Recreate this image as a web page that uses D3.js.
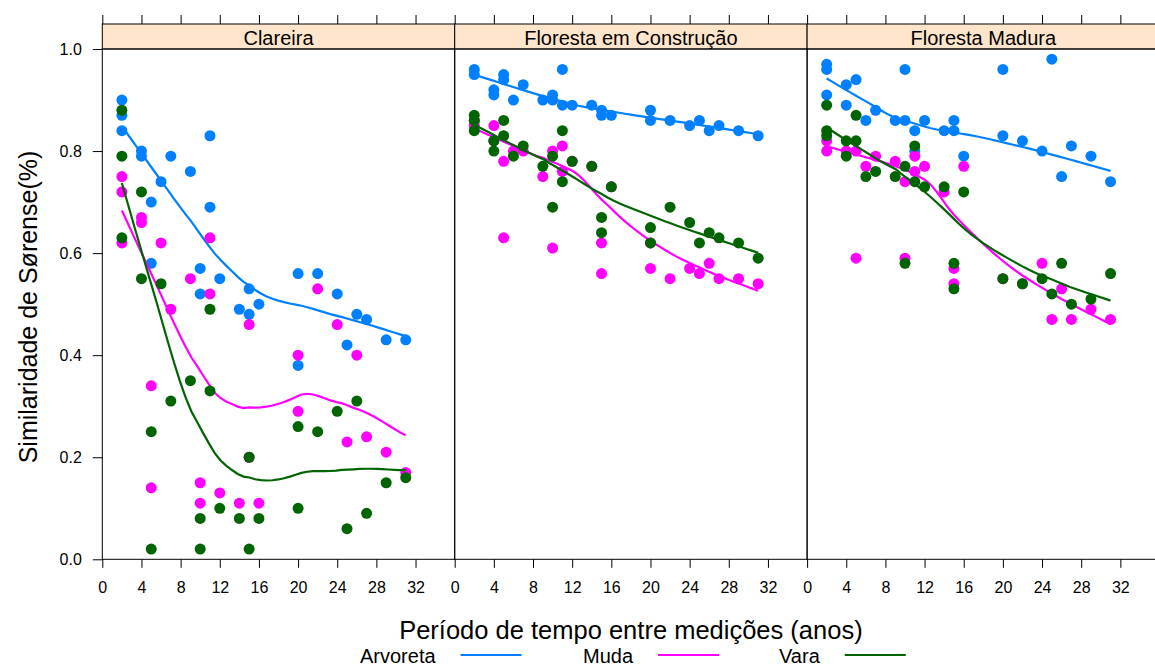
<!DOCTYPE html>
<html>
<head>
<meta charset="utf-8">
<script src="https://cdn.jsdelivr.net/npm/d3@7"></script>
<style>
  body { margin: 0; background: #fff; }
  svg { display: block; font-family: "Liberation Sans", Arial, sans-serif; }
</style>
</head>
<body>
<svg id="chart" width="1155" height="666"></svg>
<script>
// Panels, groups and axis ticks
const panels = ["Clareira", "Floresta em Construção", "Floresta Madura"];
const groups = ["Arvoreta", "Muda", "Vara"];
const groupColors = ["#0080ff", "#ff00ff", "#006400"];
const xTicks = [0, 4, 8, 12, 16, 20, 24, 28, 32];
const yTicks = [0, 0.2, 0.4, 0.6, 0.8, 1.0];

// Sørensen similarity by interval between measurements: [anos, similaridade]
const clareiraArvoreta = [[2,0.90],[2,0.87],[2,0.84],[4,0.80],[4,0.79],[5,0.70],[5,0.58],[6,0.74],[7,0.79],[9,0.76],[10,0.57],[10,0.52],[11,0.83],[11,0.69],[12,0.55],[14,0.49],[15,0.53],[15,0.48],[16,0.50],[20,0.56],[20,0.38],[22,0.56],[24,0.52],[25,0.42],[26,0.48],[27,0.47],[29,0.43],[31,0.43]];
const clareiraMuda = [[2,0.75],[2,0.72],[2,0.62],[4,0.67],[4,0.66],[5,0.34],[5,0.14],[6,0.62],[7,0.49],[9,0.55],[10,0.15],[10,0.11],[11,0.63],[11,0.52],[12,0.13],[14,0.11],[15,0.46],[15,0.20],[16,0.11],[20,0.40],[20,0.29],[22,0.53],[24,0.46],[25,0.23],[26,0.40],[27,0.24],[29,0.21],[31,0.17]];
const clareiraVara = [[2,0.88],[2,0.79],[2,0.63],[4,0.72],[4,0.55],[5,0.25],[5,0.02],[6,0.54],[7,0.31],[9,0.35],[10,0.08],[10,0.02],[11,0.49],[11,0.33],[12,0.10],[14,0.08],[15,0.20],[15,0.02],[16,0.08],[20,0.26],[20,0.10],[22,0.25],[24,0.29],[25,0.06],[26,0.31],[27,0.09],[29,0.15],[31,0.16]];

const construcaoArvoreta = [[2,0.96],[2,0.95],[4,0.92],[4,0.91],[5,0.95],[5,0.94],[6,0.90],[7,0.93],[9,0.90],[10,0.91],[10,0.90],[11,0.96],[11,0.89],[12,0.89],[14,0.89],[15,0.88],[15,0.87],[16,0.87],[20,0.88],[20,0.86],[22,0.86],[24,0.85],[25,0.86],[26,0.84],[27,0.85],[29,0.84],[31,0.83]];
const construcaoMuda = [[2,0.86],[2,0.85],[4,0.85],[4,0.82],[5,0.78],[5,0.63],[6,0.80],[7,0.80],[9,0.75],[10,0.80],[10,0.61],[11,0.81],[11,0.76],[12,0.78],[14,0.77],[15,0.62],[15,0.56],[16,0.73],[20,0.62],[20,0.57],[22,0.55],[24,0.57],[25,0.56],[26,0.58],[27,0.55],[29,0.55],[31,0.54]];
const construcaoVara = [[2,0.87],[2,0.86],[2,0.84],[4,0.82],[4,0.80],[5,0.86],[5,0.83],[6,0.79],[7,0.81],[9,0.77],[10,0.79],[10,0.69],[11,0.84],[11,0.74],[12,0.78],[14,0.77],[15,0.67],[15,0.64],[16,0.73],[20,0.65],[20,0.62],[22,0.69],[24,0.66],[25,0.62],[26,0.64],[27,0.63],[29,0.62],[31,0.59]];

const maduraArvoreta = [[2,0.97],[2,0.96],[2,0.91],[4,0.93],[4,0.89],[5,0.94],[6,0.86],[7,0.88],[9,0.86],[10,0.96],[10,0.86],[11,0.84],[11,0.80],[12,0.86],[14,0.84],[15,0.86],[15,0.84],[16,0.79],[20,0.96],[20,0.83],[22,0.82],[24,0.80],[25,0.98],[26,0.75],[27,0.81],[29,0.79],[31,0.74]];
const maduraMuda = [[2,0.82],[2,0.80],[4,0.80],[5,0.80],[5,0.59],[6,0.77],[7,0.79],[9,0.78],[10,0.74],[10,0.59],[11,0.79],[11,0.76],[12,0.77],[14,0.72],[15,0.57],[15,0.54],[16,0.77],[20,0.55],[22,0.54],[24,0.58],[25,0.47],[26,0.53],[27,0.47],[29,0.49],[31,0.47]];
const maduraVara = [[2,0.89],[2,0.84],[2,0.83],[4,0.82],[4,0.79],[5,0.87],[5,0.82],[6,0.75],[7,0.76],[9,0.75],[10,0.77],[10,0.58],[11,0.81],[11,0.74],[12,0.73],[14,0.73],[15,0.58],[15,0.53],[16,0.72],[20,0.55],[22,0.54],[24,0.55],[25,0.52],[26,0.58],[27,0.50],[29,0.51],[31,0.56]];

const panelData = [
  [clareiraArvoreta, clareiraMuda, clareiraVara],
  [construcaoArvoreta, construcaoMuda, construcaoVara],
  [maduraArvoreta, maduraMuda, maduraVara]
];

// Loess smoother: local linear fits (span 2/3, tricube kernel) with
// bisquare robustness iterations, evaluated on a kd-tree of vertices and
// blended between vertices by cubic Hermite interpolation.
function loessSmooth(points, span = 2 / 3, iterations = 4, evaluation = 50) {
  const xs = points.map(d => d[0]);
  const ys = points.map(d => d[1]);
  const n = xs.length;
  const q = Math.floor(n * span);
  const fc = Math.floor(n * span * 0.2);

  function localFit(x0, rw) {
    const dist = xs.map(x => Math.abs(x - x0));
    const sorted = dist.slice().sort((a, b) => a - b);
    let h = sorted[q - 1];
    if (h <= 0) h = 1e-9;
    let sw = 0, swx = 0, swy = 0, swxx = 0, swxy = 0;
    for (let i = 0; i < n; i++) {
      const u = dist[i] / h;
      let w = u < 0.999 ? Math.pow(1 - u * u * u, 3) : 0;
      w *= rw[i];
      sw += w; swx += w * xs[i]; swy += w * ys[i];
      swxx += w * xs[i] * xs[i]; swxy += w * xs[i] * ys[i];
    }
    const mx = swx / sw, my = swy / sw;
    const vx = swxx / sw - mx * mx;
    if (vx < 1e-10) return [my, 0];
    const b = (swxy / sw - mx * my) / vx;
    return [my + b * (x0 - mx), b];
  }

  // kd-tree vertices along x
  const sx = xs.slice().sort((a, b) => a - b);
  const X = i => sx[i - 1];
  const [xmin, xmax] = d3.extent(xs);
  const margin = 0.005 * Math.max(xmax - xmin, 1e-10);
  const verts = [xmin - margin, xmax + margin];
  (function split(l, u, lowV, highV) {
    if (u - l + 1 <= fc) return;
    let m = Math.floor((l + u) / 2);
    let offset = 0;
    while (!(m + offset >= u || m + offset < l)) {
      if (X(m + offset) === X(m + offset + 1)) {
        offset = -offset;
        if (offset >= 0) offset += 1;
      } else { m += offset; break; }
    }
    const v = X(m);
    if (v === lowV || v === highV) return;
    verts.push(v);
    split(l, m, lowV, v);
    split(m + 1, u, v, highV);
  })(1, n, verts[0], verts[1]);
  const vx = Array.from(new Set(verts)).sort((a, b) => a - b);

  function surface(rw) {
    const vv = vx.map(v => localFit(v, rw));
    return x => {
      let i = d3.bisectRight(vx, x) - 1;
      i = Math.max(0, Math.min(vx.length - 2, i));
      const x0 = vx[i], x1 = vx[i + 1], hh = x1 - x0;
      const t = (x - x0) / hh;
      const [f0, s0] = vv[i], [f1, s1] = vv[i + 1];
      const t2 = t * t, t3 = t2 * t;
      return (2 * t3 - 3 * t2 + 1) * f0 + (t3 - 2 * t2 + t) * hh * s0 +
             (-2 * t3 + 3 * t2) * f1 + (t3 - t2) * hh * s1;
    };
  }

  let robust = new Array(n).fill(1);
  for (let it = 1; it < iterations; it++) {
    const f = surface(robust);
    const res = xs.map((x, i) => ys[i] - f(x));
    const c = 6 * d3.median(res.map(Math.abs));
    robust = res.map(r => {
      const a = Math.abs(r);
      if (a <= 1e-3 * c) return 1;
      if (a > 0.999 * c) return 0;
      const t = r / c;
      return (1 - t * t) * (1 - t * t);
    });
  }
  const f = surface(robust);
  return d3.range(evaluation).map(i => {
    const x = xmin + i * (xmax - xmin) / (evaluation - 1);
    return [x, f(x)];
  });
}

// Layout
const svg = d3.select("#chart");
const left0 = 102.3, panelW = 352.4;
const plotTop = 49, plotBottom = 559.3, stripH = 25;
const y = d3.scaleLinear().domain([0, 1]).range([plotBottom, plotTop]);

panels.forEach((name, p) => {
  const x0 = left0 + p * panelW;
  const x = d3.scaleLinear().domain([0, 36]).range([x0, x0 + panelW]);
  const g = svg.append("g");

  // bottom axis with labels
  const bx = g.append("g").attr("transform", `translate(0,${plotBottom})`)
    .call(d3.axisBottom(x).tickValues(xTicks).tickSize(8.5).tickPadding(14).tickFormat(d3.format("d")));
  // top axis ticks above the strip
  const tx = g.append("g").attr("transform", `translate(0,${plotTop - stripH})`)
    .call(d3.axisTop(x).tickValues(xTicks).tickSize(9).tickFormat(""));
  [bx, tx].forEach(a => {
    a.select(".domain").remove();
    a.selectAll("line").attr("stroke", "#000");
    a.selectAll("text").attr("font-size", 16).attr("fill", "#000")
      .attr("font-family", "Liberation Sans, Arial, sans-serif");
  });

  // strip
  g.append("rect").attr("x", x0).attr("y", plotTop - stripH).attr("width", panelW).attr("height", stripH)
    .attr("fill", "#ffe5cc").attr("stroke", "#000").attr("stroke-width", 1);
  g.append("text").attr("x", x0 + panelW / 2).attr("y", plotTop - 4.5)
    .attr("text-anchor", "middle").attr("font-size", 20).attr("fill", "#000").text(name);

  // panel box
  g.append("rect").attr("x", x0).attr("y", plotTop).attr("width", panelW).attr("height", plotBottom - plotTop)
    .attr("fill", "none").attr("stroke", "#000").attr("stroke-width", 1);

  const plot = g.append("g");
  panelData[p].forEach((pts, k) => {
    plot.append("g").selectAll("circle").data(pts).join("circle")
      .attr("cx", d => x(d[0])).attr("cy", d => y(d[1])).attr("r", 5.5)
      .attr("fill", groupColors[k]);
    plot.append("path").datum(loessSmooth(pts))
      .attr("fill", "none").attr("stroke", groupColors[k]).attr("stroke-width", 2.2)
      .attr("d", d3.line().x(d => x(d[0])).y(d => y(d[1])));
  });
});

// left y axis
const ly = svg.append("g").attr("transform", `translate(${left0},0)`)
  .call(d3.axisLeft(y).tickValues(yTicks).tickSize(9.5).tickPadding(11).tickFormat(d3.format(".1f")));
ly.select(".domain").remove();
ly.selectAll("line").attr("stroke", "#000");
ly.selectAll("text").attr("font-size", 16).attr("fill", "#000")
  .attr("font-family", "Liberation Sans, Arial, sans-serif");

// axis titles
svg.append("text").attr("x", left0 + 1.5 * panelW).attr("y", 639)
  .attr("text-anchor", "middle").attr("font-size", 25.5).attr("fill", "#000")
  .text("Período de tempo entre medições (anos)");
svg.append("text").attr("transform", `translate(37,307) rotate(-90)`)
  .attr("text-anchor", "middle").attr("font-size", 25).attr("fill", "#000")
  .text("Similaridade de Sørense(%)");

// legend
const legendX = [360, 583, 779];
const legend = svg.append("g");
groups.forEach((name, k) => {
  const t = legend.append("text").attr("x", legendX[k]).attr("y", 663)
    .attr("font-size", 20).attr("fill", "#000").text(name);
  const w = t.node().getComputedTextLength();
  legend.append("line")
    .attr("x1", legendX[k] + w + 25).attr("x2", legendX[k] + w + 86)
    .attr("y1", 655).attr("y2", 655)
    .attr("stroke", groupColors[k]).attr("stroke-width", 2);
});
</script>
</body>
</html>
